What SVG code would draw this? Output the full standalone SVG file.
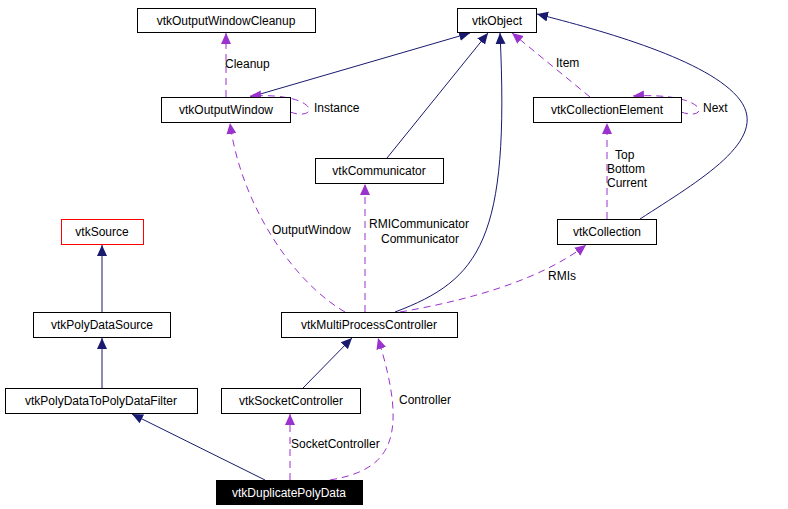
<svg xmlns="http://www.w3.org/2000/svg" width="788" height="509" viewBox="0 0 788 509">
<style>
.n rect{fill:#fff;stroke:#000;stroke-width:1}
text{font-family:"Liberation Sans",Arial,sans-serif;font-size:12px;fill:#000}
.n text{text-anchor:middle}
.i{fill:none;stroke:#191970;stroke-width:1}
.u{fill:none;stroke:#9a32cd;stroke-width:1;stroke-dasharray:7,5}
</style>
<defs>
<marker id="ai" markerWidth="12" markerHeight="12" refX="11" refY="5" orient="auto" markerUnits="userSpaceOnUse" viewBox="0 0 12 10"><path d="M0,0L11,5L0,10z" fill="#191970"/></marker>
<marker id="au" markerWidth="12" markerHeight="12" refX="11" refY="5" orient="auto" markerUnits="userSpaceOnUse" viewBox="0 0 12 10"><path d="M0,0L11,5L0,10z" fill="#9a32cd"/></marker>
</defs>
<rect width="788" height="509" fill="#fff"/>
<g id="edges">
<path class="i" d="M250,97L470,33" marker-end="url(#ai)"/>
<path class="i" d="M387,158L488,33" marker-end="url(#ai)"/>
<path class="i" d="M395,312C480,280 510,240 500,33" marker-end="url(#ai)"/>
<path class="i" d="M640,219C700,180 770,140 740,100C710,60 600,30 537,14" marker-end="url(#ai)"/>
<path class="i" d="M102,312L102,245" marker-end="url(#ai)"/>
<path class="i" d="M102,388L102,338" marker-end="url(#ai)"/>
<path class="i" d="M303,388L352,338" marker-end="url(#ai)"/>
<path class="i" d="M265,480L132,414" marker-end="url(#ai)"/>
<path class="u" d="M226,97L226,33" marker-end="url(#au)"/>
<path class="u" d="M290,112C320,122 320,92 250,96" marker-end="url(#au)"/>
<path class="u" d="M590,97L512,33" marker-end="url(#au)"/>
<path class="u" d="M681,112C710,122 710,92 633,96" marker-end="url(#au)"/>
<path class="u" d="M607,219L607,123" marker-end="url(#au)"/>
<path class="u" d="M345,312C290,280 240,200 230,123" marker-end="url(#au)"/>
<path class="u" d="M365,312L365,184" marker-end="url(#au)"/>
<path class="u" d="M400,312C470,300 540,280 586,245" marker-end="url(#au)"/>
<path class="u" d="M290,480L290,414" marker-end="url(#au)"/>
<path class="u" d="M330,480C390,470 410,440 378,338" marker-end="url(#au)"/>
<text x="225" y="68">Cleanup</text>
<text x="314" y="112">Instance</text>
<text x="556" y="67">Item</text>
<text x="703" y="112">Next</text>
<text x="615" y="159">Top</text>
<text x="607" y="173">Bottom</text>
<text x="607" y="187">Current</text>
<text x="272" y="234">OutputWindow</text>
<text x="369" y="228">RMICommunicator</text>
<text x="381" y="243">Communicator</text>
<text x="548" y="280">RMIs</text>
<text x="291" y="448">SocketController</text>
<text x="399" y="404">Controller</text>
</g>
<g id="vtkOutputWindowCleanup" class="n"><rect x="137.5" y="8.5" width="178" height="24"/><text x="226" y="25">vtkOutputWindowCleanup</text></g>
<g id="vtkObject" class="n"><rect x="457.5" y="8.5" width="79" height="24"/><text x="497" y="25">vtkObject</text></g>
<g id="vtkOutputWindow" class="n"><rect x="161.5" y="97.5" width="129" height="25"/><text x="226" y="114">vtkOutputWindow</text></g>
<g id="vtkCollectionElement" class="n"><rect x="533.5" y="97.5" width="148" height="25"/><text x="607" y="114">vtkCollectionElement</text></g>
<g id="vtkCommunicator" class="n"><rect x="315.5" y="158.5" width="128" height="25"/><text x="379" y="175">vtkCommunicator</text></g>
<g id="vtkSource" class="n"><rect x="61.5" y="219.5" width="82" height="25" style="stroke:#f00"/><text x="102" y="236">vtkSource</text></g>
<g id="vtkCollection" class="n"><rect x="557.5" y="219.5" width="99" height="25"/><text x="607" y="236">vtkCollection</text></g>
<g id="vtkPolyDataSource" class="n"><rect x="33.5" y="312.5" width="137" height="25"/><text x="102" y="329">vtkPolyDataSource</text></g>
<g id="vtkMultiProcessController" class="n"><rect x="281.5" y="312.5" width="176" height="25"/><text x="369" y="329">vtkMultiProcessController</text></g>
<g id="vtkPolyDataToPolyDataFilter" class="n"><rect x="5.5" y="388.5" width="192" height="25"/><text x="101" y="405">vtkPolyDataToPolyDataFilter</text></g>
<g id="vtkSocketController" class="n"><rect x="221.5" y="388.5" width="139" height="25"/><text x="291" y="405">vtkSocketController</text></g>
<g id="vtkDuplicatePolyData" class="n"><rect x="216.5" y="480.5" width="146" height="24" style="fill:#000"/><text x="289" y="497" style="fill:#fff">vtkDuplicatePolyData</text></g>
</svg>
